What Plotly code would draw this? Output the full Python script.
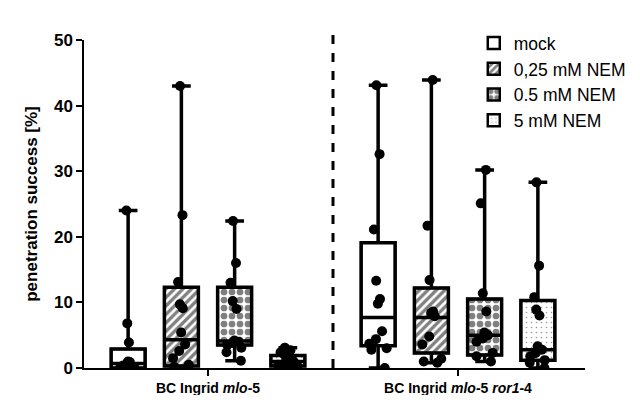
import plotly.graph_objects as go

# ---------------- data ----------------
groups = ["BC Ingrid <i>mlo</i>-5", "BC Ingrid <i>mlo</i>-5 <i>ror1</i>-4"]
series = ["mock", "0,25 mM NEM", "0.5 mM NEM", "5 mM NEM"]

# individual measurements (penetration success, %)
mlo5_mock = [0.0, 0.0, 0.2, 0.4, 0.7, 0.9, 1.0, 3.9, 6.8, 24.0]
mlo5_nem025 = [0.0, 0.2, 0.5, 1.5, 2.6, 3.6, 5.4, 9.1, 9.7, 13.1, 23.3, 43.0]
mlo5_nem05 = [1.1, 2.4, 3.1, 3.5, 3.8, 4.0, 4.2, 9.0, 10.2, 13.0, 16.0, 22.4]
mlo5_nem5 = [0.0, 0.1, 0.3, 0.5, 0.8, 1.0, 1.2, 1.5, 2.0, 2.4, 2.7, 3.1]

ror_mock = [0.0, 2.8, 3.0, 3.7, 4.4, 5.6, 9.8, 10.5, 13.3, 21.1, 32.6, 43.1]
ror_nem025 = [0.8, 1.0, 1.4, 3.6, 4.8, 7.9, 8.4, 8.6, 13.4, 21.7, 43.9]
ror_nem05 = [1.0, 1.8, 2.3, 4.0, 4.5, 5.0, 5.4, 8.6, 11.4, 25.1, 30.2]
ror_nem5 = [0.0, 0.8, 1.2, 1.8, 2.3, 2.8, 3.3, 8.0, 8.9, 10.8, 15.6, 28.3]

# box statistics as drawn (quartiles, median)
q1_mlo5 = [0.0, 0.3, 3.5, 0.3]
med_mlo5 = [0.7, 4.3, 4.1, 1.0]
q3_mlo5 = [2.9, 12.3, 12.3, 1.9]
q1_ror = [3.4, 2.3, 2.0, 1.2]
med_ror = [7.7, 7.7, 5.0, 2.8]
q3_ror = [19.1, 12.2, 10.5, 10.3]

y_ticks = [0, 10, 20, 30, 40, 50]

# ---------------- styling ----------------
FONT = "Liberation Sans, Arial, sans-serif"
patterns = [
    dict(shape=""),
    dict(shape="/", size=6, solidity=0.55, fgcolor="black", bgcolor="white"),
    dict(shape=".", size=8, solidity=0.55, fgcolor="black", bgcolor="white"),
    dict(shape=".", size=5, solidity=0.08, fgcolor="#333", bgcolor="white"),
]
STEP = 0.213   # spacing between series within a group (x units)
BOXW = 0.136   # box width (x units)

data_by_group = [
    [mlo5_mock, mlo5_nem025, mlo5_nem05, mlo5_nem5],
    [ror_mock, ror_nem025, ror_nem05, ror_nem5],
]
stats_by_group = [
    (q1_mlo5, med_mlo5, q3_mlo5),
    (q1_ror, med_ror, q3_ror),
]

fig = go.Figure()

# patterned box fills (bars from q1 to q3)
for k, name in enumerate(series):
    xs, bases, heights = [], [], []
    for g in range(len(groups)):
        q1, med, q3 = stats_by_group[g]
        xs.append(g + (k - 1.5) * STEP)
        bases.append(q1[k])
        heights.append(q3[k] - q1[k])
    fig.add_trace(go.Bar(
        x=xs, y=heights, base=bases, width=BOXW, name=name,
        marker=dict(color="white", pattern=patterns[k],
                    line=dict(color="black", width=2.5)),
        showlegend=True, hoverinfo="skip",
    ))

# box outlines, medians, min-max whiskers
for k, name in enumerate(series):
    xs, q1s, meds, q3s, lo, hi = [], [], [], [], [], []
    for g in range(len(groups)):
        q1, med, q3 = stats_by_group[g]
        vals = data_by_group[g][k]
        xs.append(g + (k - 1.5) * STEP)
        q1s.append(q1[k]); meds.append(med[k]); q3s.append(q3[k])
        lo.append(min(vals)); hi.append(max(vals))
    fig.add_trace(go.Box(
        x=xs, q1=q1s, median=meds, q3=q3s, lowerfence=lo, upperfence=hi,
        width=BOXW, whiskerwidth=0.55, fillcolor="rgba(0,0,0,0)",
        line=dict(color="black", width=3.5), showlegend=False, hoverinfo="skip",
    ))

# individual points
for g in range(len(groups)):
    for k in range(len(series)):
        vals = data_by_group[g][k]
        x0 = g + (k - 1.5) * STEP
        fig.add_trace(go.Box(
            x=[x0] * len(vals), y=vals, width=BOXW,
            boxpoints="all", jitter=0.75, pointpos=0,
            fillcolor="rgba(0,0,0,0)", line=dict(color="rgba(0,0,0,0)", width=0),
            marker=dict(color="black", size=10),
            showlegend=False, hoverinfo="skip",
        ))

fig.add_shape(type="line", xref="x", yref="paper", x0=0.5, x1=0.5, y0=0, y1=1.02,
              line=dict(color="black", width=3, dash="dash"))

# the page body adds an 8 px margin, so the figure is sized/placed to compensate
fig.update_layout(
    width=632, height=387,
    margin=dict(l=76, r=55, t=32, b=26.5, autoexpand=False),
    paper_bgcolor="white", plot_bgcolor="white",
    barmode="overlay", boxmode="overlay",
    font=dict(family=FONT, color="black"),
    legend=dict(x=0.778, y=1.045, xanchor="left", yanchor="top",
                font=dict(size=17.5, family=FONT), tracegroupgap=0,
                bgcolor="rgba(0,0,0,0)"),
    xaxis=dict(range=[-0.496, 1.508], tickmode="array", tickvals=[0, 1], ticktext=groups,
               showline=True, linecolor="black", linewidth=1.5, automargin=False,
               ticks="outside", ticklen=6, tickwidth=1.5, tickcolor="black",
               showgrid=False, zeroline=False,
               tickfont=dict(size=14, family=FONT, weight="bold")),
    yaxis=dict(range=[0, 50], tickmode="array", tickvals=y_ticks, automargin=False,
               showline=True, linecolor="black", linewidth=1.5,
               ticks="outside", ticklen=6, tickwidth=1.5, tickcolor="black",
               showgrid=False, zeroline=False,
               title=dict(text="penetration success [%]",
                          font=dict(size=17, family=FONT, weight="bold"), standoff=12),
               tickfont=dict(size=17, family=FONT, weight="bold")),
)

fig.write_html("out.html")
